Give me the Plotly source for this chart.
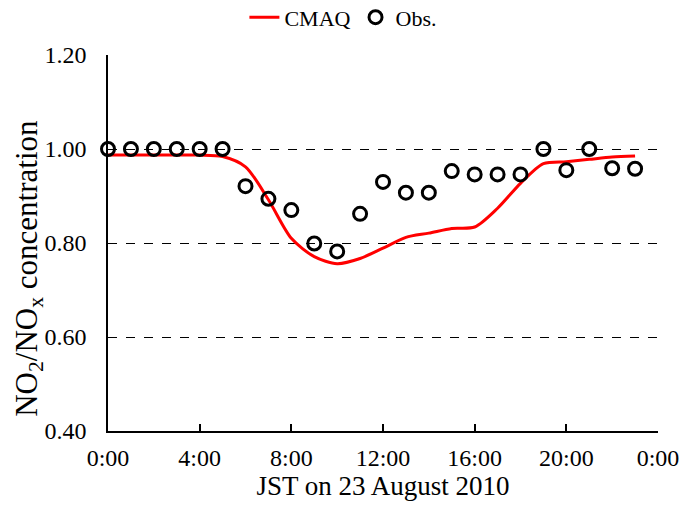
import plotly.graph_objects as go

hours = list(range(24))
cmaq = [0.987, 0.987, 0.987, 0.987, 0.987, 0.984, 0.962, 0.892, 0.810, 0.771,
        0.756, 0.767, 0.789, 0.812, 0.821, 0.831, 0.834, 0.874, 0.927, 0.969,
        0.973, 0.978, 0.983, 0.985]
obs = [1.00, 1.00, 1.00, 1.00, 1.00, 1.00, 0.921, 0.894, 0.870, 0.799,
       0.782, 0.862, 0.930, 0.907, 0.907, 0.953, 0.946, 0.946, 0.946, 1.00,
       0.955, 1.00, 0.959, 0.958]
xtick_vals = [0, 4, 8, 12, 16, 20, 24]
xtick_text = ["0:00", "4:00", "8:00", "12:00", "16:00", "20:00", "0:00"]
ytick_vals = [0.40, 0.60, 0.80, 1.00, 1.20]
y_title = "NO<sub>2</sub>/NO<sub>x</sub> concentration"

font_family = "Liberation Serif, Times New Roman, serif"

fig = go.Figure()
fig.add_trace(go.Scatter(
    x=hours, y=cmaq, mode="lines", name="CMAQ",
    line=dict(color="#ff0000", width=3, shape="spline", smoothing=0.8),
))
fig.add_trace(go.Scatter(
    x=hours, y=obs, mode="markers", name="Obs.",
    marker=dict(symbol="circle-open", size=13, color="black",
                line=dict(color="black", width=3)),
    cliponaxis=False,
))

fig.update_layout(
    width=680, height=509,
    margin=dict(l=108, r=22, t=55, b=78, autoexpand=False),
    paper_bgcolor="white", plot_bgcolor="white",
    font=dict(family=font_family, size=24, color="black"),
    showlegend=True,
    legend=dict(orientation="h", x=0.428, xanchor="center", y=1.10, yanchor="middle",
                font=dict(size=22, family=font_family), bgcolor="rgba(0,0,0,0)",
                itemwidth=30, tracegroupgap=0),
    annotations=[dict(
        text=y_title, textangle=-90, xref="paper", yref="paper",
        x=-0.145, y=0.432, xanchor="center", yanchor="middle", showarrow=False,
        font=dict(size=31, family=font_family, color="black"),
    )],
)

fig.update_xaxes(
    range=[0, 24], tickvals=xtick_vals, ticktext=xtick_text,
    showline=True, linecolor="black", linewidth=1.5,
    ticks="inside", ticklen=7, tickwidth=1.5, tickcolor="black",
    showgrid=False, zeroline=False,
    tickfont=dict(size=24, family=font_family),
    ticklabelstandoff=4,
    title=dict(text="JST on 23 August 2010", font=dict(size=27, family=font_family), standoff=2),
)
fig.update_yaxes(
    range=[0.4, 1.2], tickvals=ytick_vals, tickformat=".2f",
    showline=True, linecolor="black", linewidth=1.5,
    ticks="", showgrid=True, gridcolor="black", gridwidth=1.2, griddash="dash",
    zeroline=False,
    tickfont=dict(size=24, family=font_family),
    ticklabelstandoff=15,
)

fig.write_html("out.html")
